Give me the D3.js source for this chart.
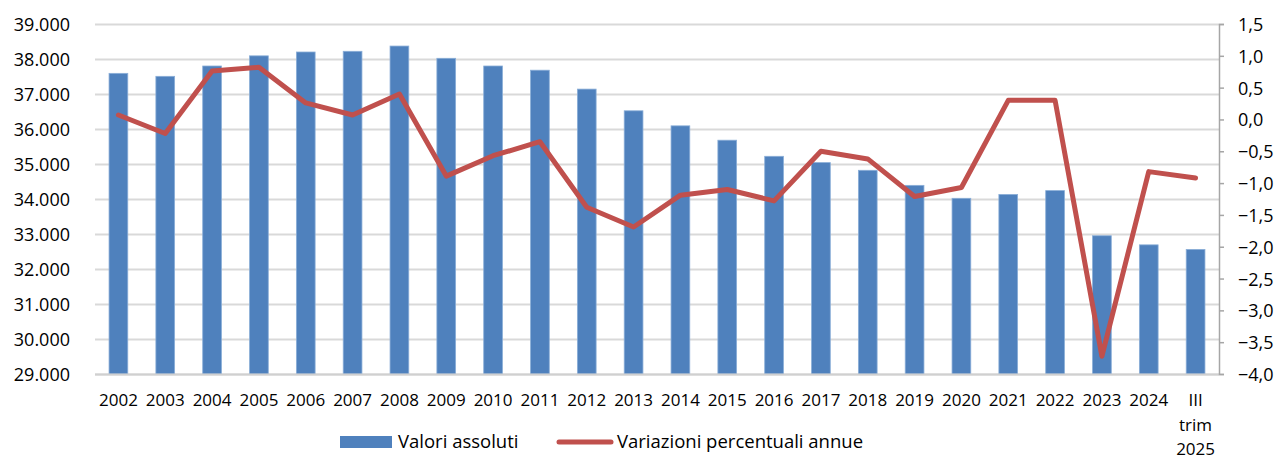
<!DOCTYPE html>
<html>
<head>
<meta charset="utf-8">
<script src="https://cdn.jsdelivr.net/npm/d3@7"></script>
<style>
  body { margin: 0; background: #fff; }
  svg text { font-family: "Open Sans", "Noto Sans", sans-serif; fill: #000; }
</style>
</head>
<body>
<svg id="chart"></svg>
<script>
// categories (last one is split on three lines)
let categories = ['2002', '2003', '2004', '2005', '2006', '2007', '2008', '2009', '2010', '2011',
  '2012', '2013', '2014', '2015', '2016', '2017', '2018', '2019', '2020', '2021', '2022', '2023',
  '2024', 'III trim 2025'];

// Valori assoluti (left axis)
let valori = [37590, 37505, 37800, 38090, 38200, 38220, 38370, 38020, 37800, 37680, 37140, 36520,
  36090, 35680, 35220, 35040, 34820, 34390, 34020, 34130, 34240, 32950, 32690, 32560];

// Variazioni percentuali annue (right axis)
let variazioni = [0.07, -0.22, 0.76, 0.82, 0.26, 0.07, 0.40, -0.89, -0.57, -0.35, -1.38, -1.69,
  -1.19, -1.10, -1.28, -0.50, -0.62, -1.21, -1.07, 0.30, 0.30, -3.72, -0.82, -0.92];

let leftTicks = [29000, 30000, 31000, 32000, 33000, 34000, 35000, 36000, 37000, 38000, 39000];
let rightTicks = [-4, -3.5, -3, -2.5, -2, -1.5, -1, -0.5, 0, 0.5, 1, 1.5];

let seriesNames = ['Valori assoluti', 'Variazioni percentuali annue'];

let svgWidth = 1275;
let svgHeight = 461;
let plotLeft = 95, plotRight = 1219, plotTop = 24, plotBottom = 374;

let blue = '#4F81BD';
let red = '#C0504D';

let it = d3.formatLocale({ decimal: ',', thousands: '.', grouping: [3], currency: ['€', ''] });

let svg = d3.select('#chart')
  .attr('width', svgWidth)
  .attr('height', svgHeight);

let x = d3.scaleBand()
  .domain(categories)
  .range([plotLeft, plotRight])
  .paddingInner(0.6)
  .paddingOuter(0.3);

let yLeft = d3.scaleLinear().domain([29000, 39000]).range([plotBottom, plotTop]);
let yRight = d3.scaleLinear().domain([-4, 1.5]).range([plotBottom, plotTop]);

// gridlines
svg.append('g')
  .selectAll('line')
  .data(leftTicks)
  .enter()
  .append('line')
  .attr('x1', plotLeft)
  .attr('x2', plotRight)
  .attr('y1', d => Math.round(yLeft(d)) + 0.5)
  .attr('y2', d => Math.round(yLeft(d)) + 0.5)
  .attr('stroke', '#d9d9d9')
  .attr('stroke-width', 2);

// left axis labels
let leftAxis = svg.append('g')
  .attr('transform', `translate(${plotLeft},0)`)
  .call(d3.axisLeft(yLeft).tickValues(leftTicks).tickSize(0).tickPadding(25)
    .tickFormat(it.format(',.0f')));
leftAxis.select('.domain').remove();
leftAxis.selectAll('text').style('font-size', '18px').attr('dy', '0.36em');

// bars
svg.append('g')
  .selectAll('rect')
  .data(valori)
  .enter()
  .append('rect')
  .attr('x', (d, i) => x(categories[i]))
  .attr('y', d => yLeft(d))
  .attr('width', x.bandwidth())
  .attr('height', d => plotBottom - yLeft(d))
  .attr('fill', blue)
  .attr('stroke', '#8aaed8')
  .attr('stroke-width', 0.8);

// bottom axis line
svg.append('line')
  .attr('x1', plotLeft)
  .attr('x2', plotRight)
  .attr('y1', plotBottom + 0.5)
  .attr('y2', plotBottom + 0.5)
  .attr('stroke', '#d0d0d0')
  .attr('stroke-width', 2);

// right axis
let rightAxis = svg.append('g')
  .attr('transform', `translate(${plotRight},0)`)
  .call(d3.axisRight(yRight).tickValues(rightTicks).tickSize(5).tickPadding(14)
    .tickFormat(it.format('.1f')));
rightAxis.select('.domain').attr('stroke', '#a6a6a6').attr('stroke-width', 1.5);
rightAxis.selectAll('.tick line').attr('stroke', '#a6a6a6').attr('stroke-width', 1.5);
rightAxis.selectAll('text').style('font-size', '18px').attr('dy', '0.36em');

// line
let line = d3.line()
  .x((d, i) => x(categories[i]) + x.bandwidth() / 2)
  .y(d => yRight(d));

svg.append('path')
  .datum(variazioni)
  .attr('d', line)
  .attr('fill', 'none')
  .attr('stroke', red)
  .attr('stroke-width', 5)
  .attr('stroke-linejoin', 'round')
  .attr('stroke-linecap', 'round');

// category labels
let xLabels = svg.append('g')
  .selectAll('text')
  .data(categories)
  .enter()
  .append('text')
  .attr('x', d => x(d) + x.bandwidth() / 2)
  .attr('y', 406)
  .attr('text-anchor', 'middle')
  .style('font-size', '17px');

xLabels.each(function(d) {
  let parts = d.split(' ');
  let t = d3.select(this);
  parts.forEach((p, k) => {
    t.append('tspan')
      .attr('x', x(d) + x.bandwidth() / 2)
      .attr('dy', k === 0 ? 0 : 24.5)
      .text(p);
  });
});

// legend
let legend = svg.append('g');
legend.append('rect')
  .attr('x', 340)
  .attr('y', 436)
  .attr('width', 52)
  .attr('height', 12)
  .attr('fill', blue);
legend.append('text')
  .attr('x', 398)
  .attr('y', 448)
  .style('font-size', '18.5px')
  .text(seriesNames[0]);
legend.append('line')
  .attr('x1', 559)
  .attr('x2', 611)
  .attr('y1', 442)
  .attr('y2', 442)
  .attr('stroke', red)
  .attr('stroke-width', 5)
  .attr('stroke-linecap', 'round');
legend.append('text')
  .attr('x', 617)
  .attr('y', 448)
  .style('font-size', '18.5px')
  .text(seriesNames[1]);
</script>
</body>
</html>
